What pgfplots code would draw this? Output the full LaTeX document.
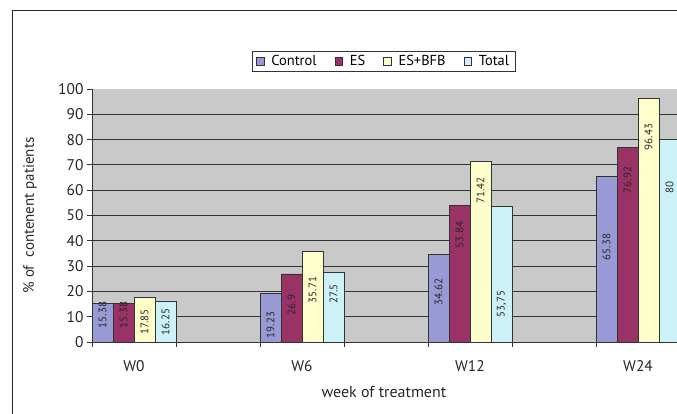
\documentclass[border=0pt]{standalone}
\usepackage{pgfplots}
\pgfplotsset{compat=1.18}
\usepackage{fontspec}
\setmainfont{PT Sans}
\definecolor{cctrl}{HTML}{9999D6}
\definecolor{ces}{HTML}{993366}
\definecolor{cbfb}{HTML}{FFFFCC}
\definecolor{ctot}{HTML}{CCF2F8}
\definecolor{plotbg}{HTML}{C9C9C9}
\definecolor{gridc}{HTML}{333333}
\begin{document}
\begin{tikzpicture}
\useasboundingbox (0,0) rectangle (677bp,414bp);
\clip (0,0) rectangle (677bp,414bp);
\draw[line width=0.9bp, black!85] (12.5bp,-5bp) -- (12.5bp,404bp) -- (690bp,404bp);
\begin{axis}[
  at={(92bp,72bp)}, anchor=south west,
  scale only axis, width=585bp, height=253bp,
  ybar=0pt, bar width=0.125,
  xmin=-0.25, xmax=3.232, ymin=0, ymax=100,
  axis background/.style={fill=plotbg},
  axis x line*=bottom, axis y line*=left,
  axis line style={gridc, line width=0.8bp},
  xtick={0,1,2,3}, xticklabels={W0,W6,W12,W24},
  minor xtick={-0.25,0.25,0.75,1.25,1.75,2.25,2.75},
  major x tick style={draw=none},
  minor x tick style={gridc, line width=0.8bp},
  minor tick length=5bp,
  ytick={0,10,...,90}, extra y ticks={100}, extra y tick style={grid=none},
  ymajorgrids, major grid style={gridc, line width=1bp},
  major y tick style={gridc, line width=0.8bp},
  major tick length=5bp, tick align=outside,
  /pgf/number format/assume math mode=true,
  tick label style={font=\fontsize{15.5}{17}\selectfont, text=black!85},
  xticklabel style={yshift=-10bp},
  xlabel={week of treatment}, ylabel={\%\ of\ \ contenent patients},
  xlabel style={at={(axis description cs:0.499,-0.198)}, anchor=center, font=\fontsize{16}{18}\selectfont, text=black!85},
  ylabel style={at={(axis description cs:-0.106,0.5)}, anchor=center, font=\fontsize{15}{17}\selectfont, text=black!85},
  legend columns=4,
  legend style={at={(0.4985,1.109)}, anchor=center, draw=gridc, line width=0.9bp, fill=white,
    font=\fontsize{14.5}{16}\selectfont, inner xsep=4bp, inner ysep=2.5bp,
    /tikz/every odd column/.append style={column sep=5bp},
    /tikz/every even column/.append style={column sep=16bp}},
  legend image code/.code={\draw[#1, line width=0.7bp] (0bp,-3.8bp) rectangle (7.6bp,3.8bp);},
]
\addplot[fill=cctrl, draw=gridc, line width=0.6bp] coordinates {(0,15.38) (1,19.23) (2,34.62) (3,65.38)};
\addplot[fill=ces, draw=gridc, line width=0.6bp] coordinates {(0,15.38) (1,26.9) (2,53.84) (3,76.92)};
\addplot[fill=cbfb, draw=gridc, line width=0.6bp] coordinates {(0,17.85) (1,35.71) (2,71.42) (3,96.43)};
\addplot[fill=ctot, draw=gridc, line width=0.6bp] coordinates {(0,16.25) (1,27.5) (2,53.75) (3,80)};
\legend{Control,ES,ES+BFB,Total}
\tikzset{dl/.style={rotate=90, font=\fontsize{11}{13}\selectfont, text=black!85, inner sep=0pt}}
\node[dl] at (axis cs:-0.1875,10.7) {15.38};
\node[dl] at (axis cs:-0.0625,10.7) {15.38};
\node[dl] at (axis cs:0.0625,7.9) {17.85};
\node[dl] at (axis cs:0.1875,7.9) {16.25};
\node[dl] at (axis cs:0.8125,6.7) {19.23};
\node[dl] at (axis cs:0.9375,14.6) {26.9};
\node[dl] at (axis cs:1.0625,20.5) {35.71};
\node[dl] at (axis cs:1.1875,19) {27.5};
\node[dl] at (axis cs:1.8125,19.8) {34.62};
\node[dl] at (axis cs:1.9375,42.3) {53.84};
\node[dl] at (axis cs:2.0625,60) {71.42};
\node[dl] at (axis cs:2.1875,15) {53,75};
\node[dl] at (axis cs:2.8125,37.5) {65.38};
\node[dl] at (axis cs:2.9375,64) {76.92};
\node[dl] at (axis cs:3.0625,81) {96.43};
\node[dl] at (axis cs:3.1875,61) {80};
\end{axis}
\end{tikzpicture}
\end{document}
